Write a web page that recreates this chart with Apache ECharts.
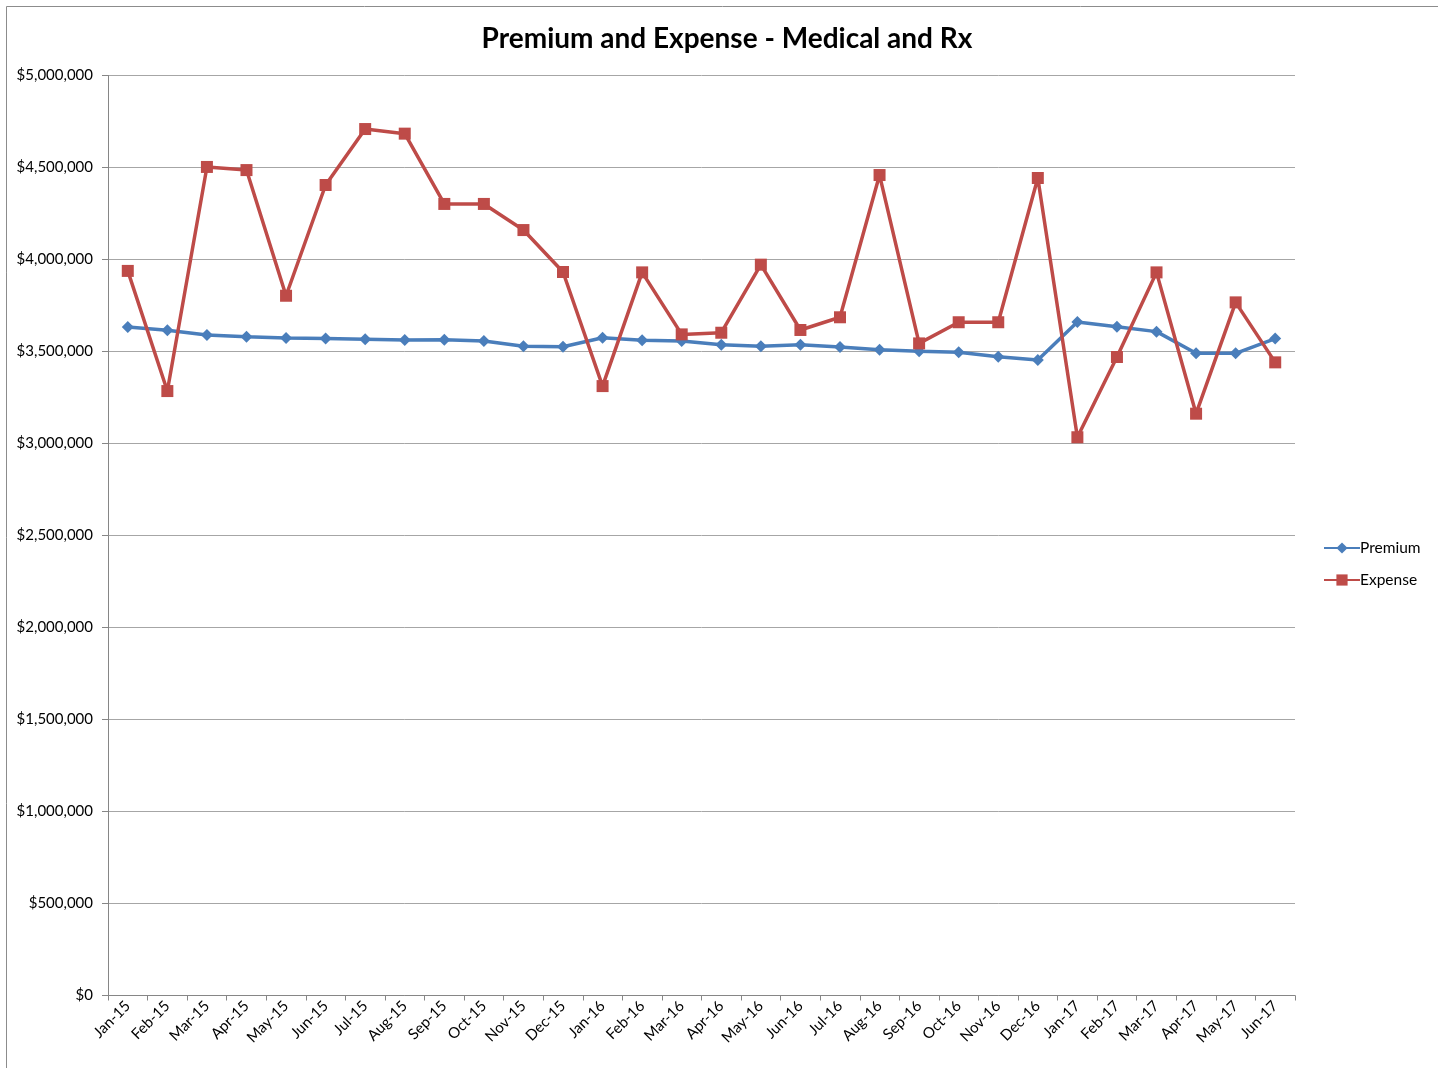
<!DOCTYPE html>
<html>
<head>
<meta charset="utf-8">
<script src="https://cdn.jsdelivr.net/npm/echarts@6/dist/echarts.min.js"></script>
<style>
html,body{margin:0;padding:0;background:#fff;}
#chart{width:1438px;height:1068px;}
</style>
</head>
<body>
<div id="chart"></div>
<script>
const categories = ["Jan-15","Feb-15","Mar-15","Apr-15","May-15","Jun-15","Jul-15","Aug-15","Sep-15","Oct-15","Nov-15","Dec-15",
  "Jan-16","Feb-16","Mar-16","Apr-16","May-16","Jun-16","Jul-16","Aug-16","Sep-16","Oct-16","Nov-16","Dec-16",
  "Jan-17","Feb-17","Mar-17","Apr-17","May-17","Jun-17"];
const premium = [3633000,3615000,3590000,3580000,3573000,3570000,3566000,3562000,3564000,3557000,3528000,3526000,
  3575000,3561000,3557000,3537000,3528000,3537000,3524000,3510000,3502000,3496000,3472000,3454000,
  3660000,3635000,3608000,3490000,3490000,3570000];
const expense = [3938000,3285000,4503000,4486000,3803000,4405000,4709000,4684000,4302000,4302000,4160000,3932000,
  3312000,3930000,3593000,3602000,3972000,3617000,3686000,4459000,3544000,3659000,3659000,4443000,
  3034000,3470000,3930000,3162000,3767000,3441000];
const yTicks = [0,500000,1000000,1500000,2000000,2500000,3000000,3500000,4000000,4500000,5000000];

const FONT = 'Lato, "Open Sans", sans-serif';
const chart = echarts.init(document.getElementById('chart'));
chart.setOption({
  animation: false,
  backgroundColor: '#fff',
  graphic: [{
    type: 'rect', left: 4, top: 4,
    shape: {x: 0, y: 0, width: 1432, height: 1070},
    style: {fill: 'none', stroke: '#8c8c8c', lineWidth: 1}, silent: true
  }],
  title: {
    text: 'Premium and Expense - Medical and Rx',
    left: 722, top: 20, textAlign: 'center',
    textStyle: {fontFamily: FONT, fontWeight: 'bold', fontSize: 28, color: '#000'}
  },
  legend: {
    orient: 'vertical', left: 1318, top: 535,
    itemWidth: 36, itemHeight: 14, itemGap: 16,
    textStyle: {fontFamily: FONT, fontSize: 15.5, color: '#000', padding: [0,0,0,-5]},
    data: ['Premium','Expense']
  },
  grid: {left: 108, right: 143, top: 75.5, bottom: 72.5, containLabel: false},
  xAxis: {
    type: 'category', data: categories, boundaryGap: true,
    axisLine: {lineStyle: {color: '#868686', width: 1}},
    axisTick: {show: true, length: 5, alignWithLabel: false, lineStyle: {color: '#868686'}},
    axisLabel: {rotate: 45, fontFamily: FONT, fontSize: 15, color: '#000', margin: 8, interval: 0}
  },
  yAxis: {
    type: 'value', min: 0, max: 5000000, interval: 500000,
    axisLine: {show: true, lineStyle: {color: '#868686', width: 1}},
    axisTick: {show: true, length: 6, lineStyle: {color: '#868686'}},
    splitLine: {lineStyle: {color: '#a6a6a6', width: 1}},
    axisLabel: {
      fontFamily: FONT, fontSize: 15, color: '#000', margin: 15,
      formatter: v => '$' + v.toLocaleString('en-US')
    }
  },
  series: [
    {
      name: 'Premium', type: 'line', data: premium,
      symbol: 'diamond', symbolSize: 12, showAllSymbol: true,
      lineStyle: {color: '#4a7ebb', width: 3.5},
      itemStyle: {color: '#4a7ebb'}
    },
    {
      name: 'Expense', type: 'line', data: expense,
      symbol: 'rect', symbolSize: 12, showAllSymbol: true,
      lineStyle: {color: '#be4b48', width: 3.5},
      itemStyle: {color: '#be4b48'}
    }
  ]
});
</script>
</body>
</html>
